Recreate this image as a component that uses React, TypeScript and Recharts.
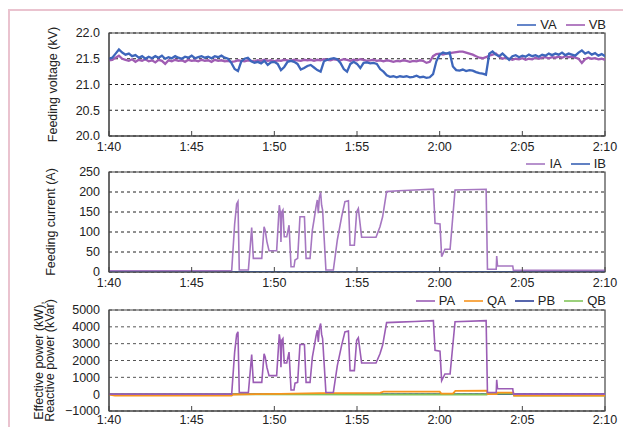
import React from 'react';
import { LineChart, Line, XAxis, YAxis, CartesianGrid, Legend, Label, ReferenceArea } from 'recharts';

const FONT = '"Liberation Sans", Arial, Helvetica, sans-serif';

// time axis: minutes after 1:40
const xTickValues = [0, 5, 10, 15, 20, 25, 30];
const xTickLabels = ['1:40', '1:45', '1:50', '1:55', '2:00', '2:05', '2:10'];

// ---------- Feeding voltage (kV), sampled every 0.2 min ----------
const VOLT_STEP = 0.2;
const vaValues = [
  21.50, 21.52, 21.60, 21.68, 21.62, 21.58, 21.60, 21.55, 21.57, 21.52,
  21.55, 21.50, 21.54, 21.51, 21.55, 21.52, 21.56, 21.50, 21.53, 21.51,
  21.55, 21.52, 21.50, 21.54, 21.52, 21.56, 21.51, 21.53, 21.55, 21.52,
  21.54, 21.51, 21.55, 21.53, 21.56, 21.52, 21.50, 21.42, 21.30, 21.26,
  21.45, 21.50, 21.52, 21.45, 21.42, 21.44, 21.41, 21.46, 21.38, 21.43,
  21.44, 21.40, 21.28, 21.34, 21.44, 21.46, 21.44, 21.40, 21.29, 21.32,
  21.36, 21.38, 21.33, 21.28, 21.25, 21.45, 21.48, 21.50, 21.51, 21.49,
  21.42, 21.30, 21.25, 21.40, 21.44, 21.40, 21.32, 21.42, 21.43, 21.41,
  21.42, 21.40, 21.30, 21.25, 21.18, 21.15, 21.16, 21.14, 21.16, 21.15,
  21.16, 21.14, 21.15, 21.17, 21.14, 21.15, 21.13, 21.14, 21.20, 21.45,
  21.58, 21.62, 21.60, 21.62, 21.35, 21.28, 21.27, 21.29, 21.26, 21.28,
  21.27, 21.24, 21.22, 21.21, 21.19, 21.60, 21.64, 21.58, 21.55, 21.60,
  21.54, 21.48, 21.55, 21.57, 21.53, 21.56, 21.54, 21.58, 21.55, 21.57,
  21.54, 21.58, 21.56, 21.60, 21.57, 21.60, 21.58, 21.62, 21.57, 21.60,
  21.58, 21.56, 21.62, 21.66, 21.60, 21.63, 21.58, 21.61, 21.56, 21.59, 21.55,
];
const vbValues = [
  21.47, 21.48, 21.52, 21.56, 21.50, 21.48, 21.46, 21.49, 21.44, 21.48,
  21.46, 21.49, 21.45, 21.47, 21.43, 21.48, 21.46, 21.40, 21.47, 21.45,
  21.48, 21.46, 21.47, 21.44, 21.48, 21.46, 21.47, 21.45, 21.48, 21.46,
  21.47, 21.44, 21.48, 21.46, 21.47, 21.45, 21.46, 21.44, 21.45, 21.47,
  21.46, 21.45, 21.47, 21.46, 21.45, 21.47, 21.46, 21.48, 21.46, 21.47,
  21.45, 21.47, 21.46, 21.48, 21.47, 21.46, 21.48, 21.47, 21.46, 21.48,
  21.47, 21.48, 21.46, 21.48, 21.47, 21.49, 21.48, 21.47, 21.49, 21.48,
  21.47, 21.49, 21.48, 21.46, 21.48, 21.47, 21.49, 21.48, 21.46, 21.47,
  21.48, 21.46, 21.47, 21.45, 21.47, 21.46, 21.44, 21.46, 21.45, 21.47,
  21.46, 21.44, 21.46, 21.45, 21.47, 21.46, 21.42, 21.44, 21.55, 21.59,
  21.60, 21.58, 21.60, 21.61, 21.62, 21.63, 21.64, 21.64, 21.62, 21.60,
  21.58, 21.55, 21.52, 21.51, 21.53, 21.56, 21.58, 21.60, 21.54, 21.50,
  21.52, 21.50, 21.48, 21.50, 21.49, 21.51, 21.48, 21.50, 21.49, 21.52,
  21.50, 21.52, 21.53, 21.51, 21.53, 21.52, 21.54, 21.52, 21.55, 21.53,
  21.54, 21.52, 21.50, 21.42, 21.49, 21.52, 21.50, 21.51, 21.49, 21.50, 21.48,
];
const voltTicks = [20, 20.5, 21, 21.5, 22];

// ---------- Feeding current (A): [minute, value] ----------
const iaPoints: [number, number][] = [
  [0, 3], [7.42, 3], [7.6, 120], [7.72, 170], [7.8, 176], [7.88, 5], [8.43, 5], [8.63, 111],
  [8.73, 34], [9.24, 34], [9.38, 113], [9.45, 104], [9.55, 76], [9.68, 53], [10.14, 53],
  [10.3, 167], [10.36, 150], [10.4, 75], [10.45, 150], [10.52, 155], [10.6, 88], [10.75, 88],
  [10.89, 117], [11.01, 13], [11.19, 13], [11.25, 30], [11.41, 34], [11.55, 138], [11.82, 138],
  [11.92, 34], [12.16, 34], [12.3, 105], [12.4, 130], [12.52, 163], [12.6, 180], [12.66, 147],
  [12.72, 185], [12.8, 199], [12.86, 167], [12.92, 155], [13.12, 5], [13.57, 5], [13.81, 80],
  [14.07, 138], [14.27, 176], [14.48, 178], [14.58, 67], [14.84, 67], [14.98, 151], [15.08, 159],
  [15.28, 87], [16.15, 87], [16.39, 113], [16.55, 138], [16.79, 201], [17.5, 203], [18.5, 205],
  [19.62, 207], [19.72, 122], [20.02, 120], [20.12, 38], [20.32, 57], [20.63, 57], [20.93, 205],
  [22.81, 207], [22.89, 7], [23.42, 7], [23.45, 40], [23.5, 15], [24.42, 15], [24.46, 4], [30, 4],
];
const ibPoints: [number, number][] = [[0, 0], [30, 0]];
const currentTicks = [0, 50, 100, 150, 200, 250];

// ---------- Power (kW / kVar): [minute, value] ----------
const paPoints: [number, number][] = [
  [0, 0], [7.42, 0], [7.6, 2500], [7.72, 3550], [7.8, 3700], [7.88, 100], [8.43, 100], [8.63, 2350],
  [8.73, 700], [9.24, 700], [9.38, 2400], [9.45, 2200], [9.55, 1600], [9.68, 1100], [10.14, 1100],
  [10.3, 3550], [10.36, 3150], [10.4, 1600], [10.45, 3200], [10.52, 3300], [10.6, 1850], [10.75, 1850],
  [10.89, 2500], [11.01, 250], [11.19, 250], [11.25, 650], [11.41, 700], [11.55, 2950], [11.82, 2950],
  [11.92, 700], [12.16, 700], [12.3, 2200], [12.4, 2750], [12.52, 3450], [12.6, 3800], [12.66, 3100],
  [12.72, 3900], [12.8, 4200], [12.86, 3550], [12.92, 3300], [13.12, 100], [13.57, 100], [13.81, 1700],
  [14.07, 2900], [14.27, 3700], [14.48, 3750], [14.58, 1400], [14.84, 1400], [14.98, 3200], [15.08, 3350],
  [15.28, 1850], [16.15, 1850], [16.39, 2400], [16.55, 2900], [16.79, 4250], [17.5, 4280], [18.5, 4320],
  [19.62, 4370], [19.72, 2600], [20.02, 2550], [20.12, 800], [20.32, 1200], [20.63, 1200], [20.93, 4300],
  [22.81, 4370], [22.89, 100], [23.42, 100], [23.45, 850], [23.5, 320], [24.42, 320], [24.46, 0], [30, 0],
];
const qaPoints: [number, number][] = [
  [0, -30], [0.36, -80], [7.42, -80], [7.5, -20], [10.35, 20], [12.76, 60], [16.4, 80], [16.6, 150],
  [20.0, 150], [20.1, 30], [20.8, 40], [20.95, 200], [22.85, 210], [22.9, 0], [23.45, 0], [23.5, 90],
  [24.46, 90], [24.5, -90], [30, -90],
];
const pbPoints: [number, number][] = [[0, 0], [30, 0]];
const qbPoints: [number, number][] = [
  [0, -10], [16.5, -20], [22.85, -20], [22.9, 30], [24.46, 30], [24.5, -80], [30, -80],
];
const powerTicks = [-1000, 0, 1000, 2000, 3000, 4000, 5000];

const COLORS = {
  VA: '#3d66bb', VB: '#a05db3', IA: '#a677c1', IB: '#3a62b4',
  PA: '#9b5db5', QA: '#f7941d', PB: '#2d3f98', QB: '#82c45a',
};

const toRows = (pts: [number, number][]) => pts.map(([t, v]) => ({ t, v }));
const vaData = vaValues.map((v, i) => ({ t: +(i * VOLT_STEP).toFixed(2), v }));
const vbData = vbValues.map((v, i) => ({ t: +(i * VOLT_STEP).toFixed(2), v }));

const tickStyle = { fontFamily: FONT, fontSize: 12.5, fill: '#222' };
const xFmt = (v: number) => xTickLabels[xTickValues.indexOf(v)] ?? '';

const makeLegend = (order: string[]) => (props: any) => {
  const items = [...(props.payload || [])].sort(
    (a: any, b: any) => order.indexOf(a.value) - order.indexOf(b.value)
  );
  return (
    <div style={{ display: 'flex', justifyContent: 'flex-end', alignItems: 'center', fontFamily: FONT, fontSize: 13, color: '#222', lineHeight: '16px' }}>
      {items.map((it: any, i: number) => (
        <span key={it.value} style={{ display: 'inline-flex', alignItems: 'center', marginLeft: i === 0 ? 0 : 9 }}>
          <svg width={19} height={4} style={{ display: 'block' }}>
            <line x1={0} y1={2} x2={19} y2={2} stroke={it.color} strokeWidth={1.6} />
          </svg>
          <span style={{ marginLeft: 4 }}>{it.value}</span>
        </span>
      ))}
    </div>
  );
};

const yTitle = (lines: string[], cx: number) => (props: any) => {
  const vb = props.viewBox || { x: 0, y: 0, width: 0, height: 0 };
  const x = vb.x + cx;
  const y = vb.y + vb.height / 2;
  const lh = 11;
  const x0 = x - ((lines.length - 1) * lh) / 2;
  return (
    <text transform={`rotate(-90 ${x0} ${y})`} x={x0} y={y} textAnchor="middle" dominantBaseline="central"
      style={{ fontFamily: FONT, fontSize: 12.5, fill: '#222' }}>
      {lines.map((l, i) => (
        <tspan key={i} x={x0} dy={i === 0 ? 0 : lh}>{l}</tspan>
      ))}
    </text>
  );
};

const CHART_W = 623;
const AXIS_W = 109;
const RIGHT = 18;
const BOTTOM = 6;

function Panel(props: {
  top: number; height: number; marginTop: number; domain: [number, number]; ticks: number[];
  yFmt: (v: number) => string; title: string[]; titleX: number; legendTop: number; order: string[];
  gridColor: string; xTickMargin: number; children: React.ReactNode;
}) {
  return (
    <div style={{ position: 'absolute', left: 0, top: props.top }}>
      <LineChart width={CHART_W} height={props.height} margin={{ top: props.marginTop, right: RIGHT, bottom: BOTTOM, left: 0 }}>
        <CartesianGrid vertical={false} stroke={props.gridColor} strokeDasharray="3 3" />
        <XAxis dataKey="t" type="number" domain={[0, 30]} ticks={xTickValues} tickFormatter={xFmt}
          allowDataOverflow height={16} tickSize={-5} tickMargin={props.xTickMargin} tick={tickStyle}
          axisLine={{ stroke: '#444' }} tickLine={{ stroke: '#444' }} interval={0} />
        <YAxis type="number" domain={props.domain} ticks={props.ticks} tickFormatter={props.yFmt}
          allowDataOverflow width={AXIS_W} tickLine={false} tickSize={0} tickMargin={9} tick={tickStyle}
          axisLine={{ stroke: '#444' }} interval={0}>
          <Label content={yTitle(props.title, props.titleX)} />
        </YAxis>
        <ReferenceArea x1={0} x2={30} y1={props.domain[0]} y2={props.domain[1]} fill="none" stroke="#444" strokeWidth={1.2} ifOverflow="visible" />
        {props.children}
        <Legend verticalAlign="middle" align="center" content={makeLegend(props.order)}
          wrapperStyle={{ top: props.legendTop, left: 0, width: CHART_W - RIGHT + 1, height: 16 }} />
      </LineChart>
    </div>
  );
}

export default function App() {
  return (
    <div style={{ position: 'absolute', left: 0, top: 0, width: 623, height: 427, background: '#fff', overflow: 'hidden' }}>
      <div style={{ position: 'absolute', left: 8, top: 9, width: 640, height: 440, borderLeft: '2px solid #eac3cf', borderTop: '2px solid #eac3cf' }} />
      <Panel top={0} height={158} marginTop={33} domain={[20, 22]} ticks={voltTicks} yFmt={(v) => v.toFixed(1)}
        title={['Feeding voltage (kV)']} titleX={53} legendTop={17} order={['VA', 'VB']} gridColor="#222" xTickMargin={11}>
        <Line data={vbData} dataKey="v" name="VB" stroke={COLORS.VB} strokeWidth={2.3} dot={false} isAnimationActive={false} />
        <Line data={vaData} dataKey="v" name="VA" stroke={COLORS.VA} strokeWidth={2.3} dot={false} isAnimationActive={false} />
      </Panel>
      <Panel top={152} height={142} marginTop={20} domain={[0, 250]} ticks={currentTicks} yFmt={(v) => String(v)}
        title={['Feeding current (A)']} titleX={51} legendTop={4} order={['IA', 'IB']} gridColor="#222" xTickMargin={11}>
        <Line data={toRows(ibPoints)} dataKey="v" name="IB" stroke={COLORS.IB} strokeWidth={2} dot={false} isAnimationActive={false} />
        <Line data={toRows(iaPoints)} dataKey="v" name="IA" stroke={COLORS.IA} strokeWidth={1.6} dot={false} isAnimationActive={false} />
      </Panel>
      <Panel top={288} height={145} marginTop={22} domain={[-1000, 5000]} ticks={powerTicks} yFmt={(v) => String(v).replace('-', '\u2212')}
        title={['Effective power (kW),', 'Reactive power (kVar)']} titleX={44} legendTop={5} order={['PA', 'QA', 'PB', 'QB']} gridColor="#555" xTickMargin={9}>
        <Line data={toRows(pbPoints)} dataKey="v" name="PB" stroke={COLORS.PB} strokeWidth={1.6} dot={false} isAnimationActive={false} />
        <Line data={toRows(qbPoints)} dataKey="v" name="QB" stroke={COLORS.QB} strokeWidth={1.8} dot={false} isAnimationActive={false} />
        <Line data={toRows(qaPoints)} dataKey="v" name="QA" stroke={COLORS.QA} strokeWidth={1.8} dot={false} isAnimationActive={false} />
        <Line data={toRows(paPoints)} dataKey="v" name="PA" stroke={COLORS.PA} strokeWidth={1.6} dot={false} isAnimationActive={false} />
      </Panel>
    </div>
  );
}
